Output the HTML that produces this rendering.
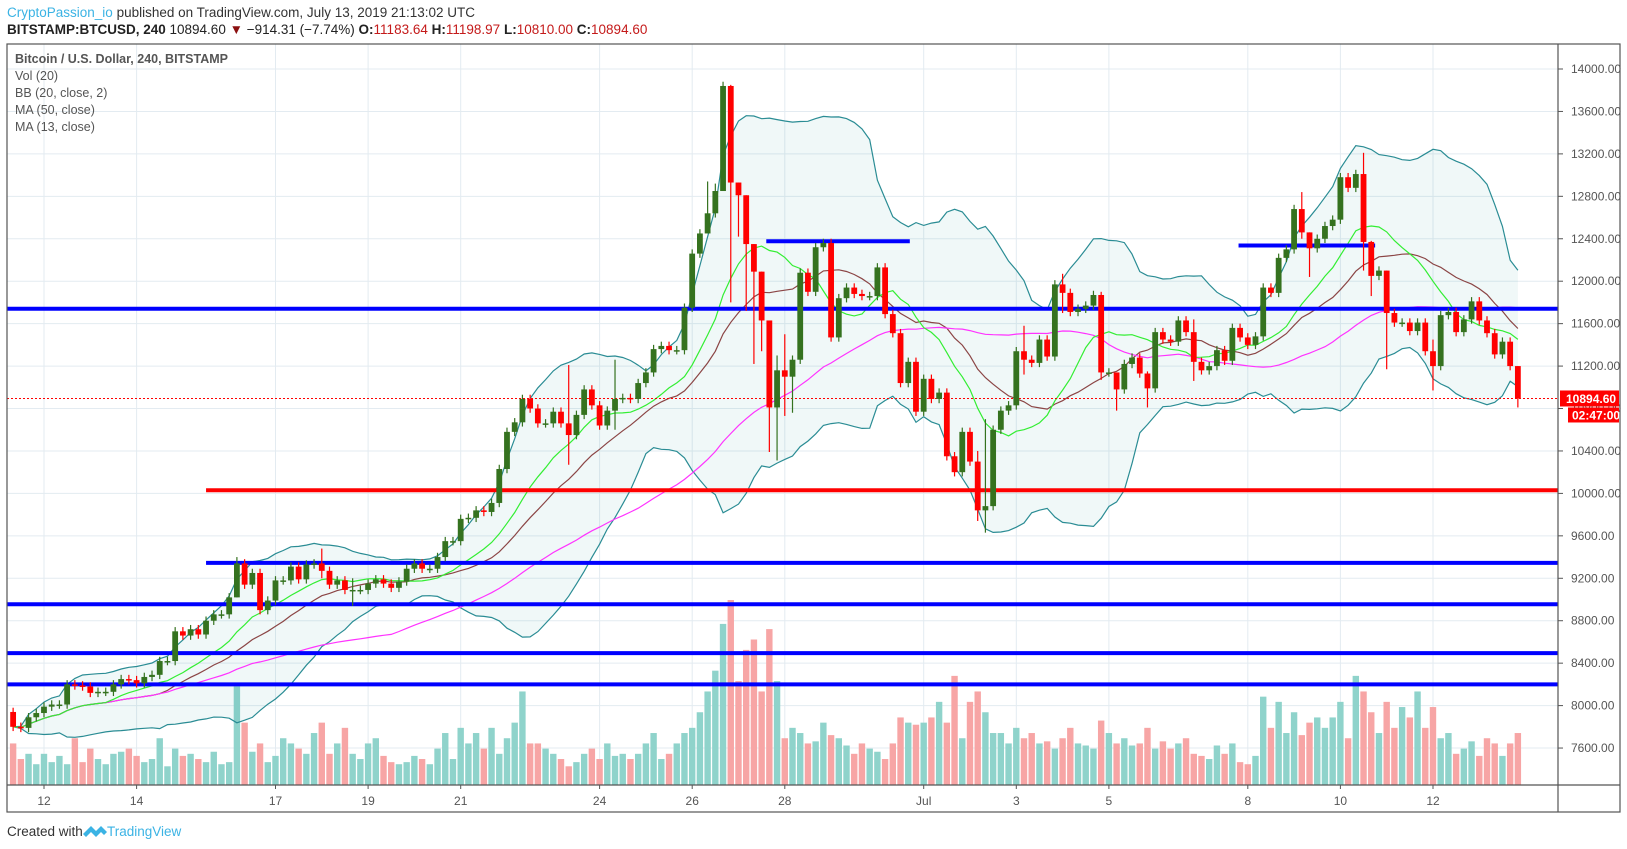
<!DOCTYPE html>
<html><head><meta charset="utf-8"><style>
html,body{margin:0;padding:0;background:#fff;width:1627px;height:849px;overflow:hidden}
svg{display:block}
text{font-family:"Liberation Sans",sans-serif}
</style></head><body>
<svg id="chart" width="1627" height="849" xmlns="http://www.w3.org/2000/svg">
<text x="7" y="17" font-size="13.5" fill="#333"><tspan fill="#3bb3e4">CryptoPassion_io</tspan> published on TradingView.com, July 13, 2019 21:13:02 UTC</text>
<text x="7" y="34" font-size="13.5" fill="#222"><tspan font-weight="bold">BITSTAMP:BTCUSD, 240</tspan> 10894.60 <tspan fill="#8b1010">▼</tspan> −914.31 (−7.74%) <tspan font-weight="bold">O:</tspan><tspan fill="#c41a1a">11183.64</tspan> <tspan font-weight="bold">H:</tspan><tspan fill="#c41a1a">11198.97</tspan> <tspan font-weight="bold">L:</tspan><tspan fill="#c41a1a">10810.00</tspan> <tspan font-weight="bold">C:</tspan><tspan fill="#c41a1a">10894.60</tspan></text>
<g id="grid"></g>
<g id="vol"></g>
<g id="ind"></g>
<g id="levels"></g>
<g id="candles"></g>
<g id="axes"></g>
<rect x="7" y="44" width="1613" height="768" fill="none" stroke="#555" stroke-width="1.2"/>
<line x1="1558" y1="44" x2="1558" y2="812" stroke="#555" stroke-width="1.2"/>
<line x1="7" y1="785" x2="1620" y2="785" stroke="#555" stroke-width="1.2"/>
<g font-size="12.5" fill="#555">
<text x="15" y="63" font-weight="bold">Bitcoin / U.S. Dollar, 240, BITSTAMP</text>
<text x="15" y="80">Vol (20)</text>
<text x="15" y="97">BB (20, close, 2)</text>
<text x="15" y="114">MA (50, close)</text>
<text x="15" y="131">MA (13, close)</text>
</g>
<g>
<text x="7" y="836" font-size="13.5" fill="#333">Created with</text>
<path d="M83 834 l8 -8 l5 5 l5 -5 l6 6 l-3 3 l-3 -3 l-5 5 l-5 -5 l-5 5z" fill="#3bb3e4"/>
<text x="107" y="836" font-size="13.5" fill="#3bb3e4">TradingView</text>
</g>
</svg>
<script>
const closes=[7800,7790,7890,7930,7990,8010,8010,8200,8190,8180,
8120,8130,8130,8200,8250,8240,8210,8270,8290,8420,
8420,8700,8660,8720,8670,8800,8860,8860,9020,9340,
9140,9250,8900,8990,9180,9180,9310,9190,9330,9340,
9270,9140,9180,9090,9090,9090,9150,9190,9150,9110,
9170,9290,9340,9290,9290,9400,9550,9550,9760,9770,
9840,9825,9910,10230,10580,10670,10890,10800,10660,10660,
10770,10660,10550,10740,10980,10830,10640,10780,10890,10900,
10890,11040,11140,11360,11390,11350,11350,11750,12260,12450,
12640,12850,13840,12930,12810,12350,12090,11630,10810,11160,
11100,11260,12080,11900,12320,12360,11470,11840,11940,11880,
11860,11860,12130,11690,11510,11040,11240,10770,11080,10890,
10950,10350,10200,10580,10300,9840,9880,10600,10780,10830,
11340,11260,11230,11450,11290,11970,11890,11710,11740,11770,
11870,11140,11140,10980,11220,11280,11130,10990,11520,11450,
11430,11630,11520,11240,11160,11200,11350,11250,11560,11470,
11400,11480,11940,11890,12220,12300,12680,12460,12310,12400,
12520,12580,12980,12880,13010,12370,12050,12100,11700,11610,
11610,11530,11610,11340,11200,11680,11710,11520,11640,11810,
11630,11510,11310,11430,11200,10895];
const firstOpen=7940;
const wickIdx=[29,40,44,72,78,90,91,92,93,94,95,96,97,98,99,100,101,125,126,131,136,141,143,147,153,167,168,175,176,178,184,195];
const wickHigh=[9400,9480,9200,11210,11260,12940,12920,13880,13850,12880,12400,12120,11700,10860,11300,11500,11300,10400,10700,11580,12070,11900,11050,11150,11640,12840,12400,13210,12380,11800,11450,11199];
const wickLow=[9300,9200,8940,10270,10600,12450,12600,12870,11800,12420,11720,11220,11340,10390,10310,10730,10760,9740,9630,11120,11700,11070,10780,10810,11060,12400,12040,12100,11860,11170,10970,10810];
const volumes=[40,25,30,20,30,22,28,20,45,22,35,25,20,30,32,35,28,22,25,45,18,35,28,30,25,22,32,20,22,95,60,32,40,22,28,45,40,35,30,50,60,30,40,55,30,25,40,45,28,22,20,22,28,25,20,35,50,25,55,40,50,35,55,30,45,60,90,40,40,35,30,25,18,22,30,35,25,40,28,30,25,30,40,50,25,30,40,50,55,70,90,110,155,178,100,130,140,90,150,100,45,55,50,40,42,60,48,45,38,30,40,35,32,25,40,65,60,58,60,65,80,60,105,45,80,90,70,50,50,40,55,45,50,40,42,35,45,55,40,38,35,62,50,40,45,38,40,55,35,42,35,40,45,30,28,25,38,30,40,22,20,28,85,55,80,50,70,48,60,65,55,65,80,45,105,90,70,50,80,55,75,65,90,55,75,45,50,30,35,42,28,45,40,28,40,50];
const priceTicks=[7600,8000,8400,8800,9200,9600,10000,10400,10800,11200,11600,12000,12400,12800,13200,13600,14000];
const dateLabels=["12","14","17","19","21","24","26","28","Jul","3","5","8","10","12"];
const dateDays=[0,2,5,7,9,12,14,16,19,21,23,26,28,30];
const levelPrices=[11740,10030,9345,8955,8494,8200,12376,12337];
const levelStartDay=[-0.8,3.5,3.5,-0.8,-0.8,-0.8,15.6,25.8];
const levelEndDay=[32.7,32.7,32.7,32.7,32.7,32.7,18.7,28.75];
const levelColors=["#0000ff","#ff0000","#0000ff","#0000ff","#0000ff","#0000ff","#0000ff","#0000ff"];
const lastPrice=10894.6;

const NS="http://www.w3.org/2000/svg";
const PL=7,PR=1558,PT=44,VB=785;
function yP(p){return 69+(14000-p)/400*42.44;}
function xD(d){return 44+d*46.3;}
function xI(i){return xD(-0.667+i/6);}
function mk(tag,attrs,parent){const e=document.createElementNS(NS,tag);for(const k in attrs)e.setAttribute(k,attrs[k]);parent.appendChild(e);return e;}
const G=id=>document.getElementById(id);

// grid
priceTicks.forEach(p=>{const l=mk('line',{x1:PL,x2:PR,y1:yP(p),y2:yP(p),stroke:'#e3ebf1','stroke-width':1},G('grid'));

});
dateDays.forEach(d=>{const l=mk('line',{x1:xD(d),x2:xD(d),y1:PT,y2:VB,stroke:'#e3ebf1','stroke-width':1},G('grid'));

});

// axes labels
priceTicks.forEach(p=>{
const t=mk('line',{x1:PR,x2:PR+5,y1:yP(p),y2:yP(p),stroke:'#555'},G('axes'));


const tx=mk('text',{x:1571,y:yP(p)+4,'font-size':12,fill:'#555'},G('axes'));tx.textContent=p.toFixed(2);

});
dateDays.forEach((d,k)=>{
const t=mk('line',{x1:xD(d),x2:xD(d),y1:VB,y2:VB+4,stroke:'#555'},G('axes'));


const tx=mk('text',{x:xD(d),y:805,'font-size':12,fill:'#555','text-anchor':'middle'},G('axes'));tx.textContent=dateLabels[k];

});

// opens/highs/lows
const opens=closes.map((c,i)=>i===0?firstOpen:closes[i-1]);
const highs=closes.map((c,i)=>Math.max(c,opens[i])+40);
const lows=closes.map((c,i)=>Math.min(c,opens[i])-40);
wickIdx.forEach((i,k)=>{highs[i]=Math.max(wickHigh[k],closes[i],opens[i]);lows[i]=Math.min(wickLow[k],closes[i],opens[i]);});

// volume
const vMax=Math.max(...volumes);
volumes.forEach((v,i)=>{const up=closes[i]>=opens[i];const h=v/vMax*185;
const r=mk('rect',{x:xI(i)-3.2,y:VB-h,width:6.4,height:h,fill:up?'#8fd3cb':'#f7a5a5'},G('vol'));

});

// indicators
function sma(n,i){const s=Math.max(0,i-n+1);let a=0;for(let k=s;k<=i;k++)a+=closes[k];return a/(i-s+1);}
function sd(n,i,m){const s=Math.max(0,i-n+1);let a=0;for(let k=s;k<=i;k++)a+=(closes[k]-m)**2;return Math.sqrt(a/(i-s+1));}
const up=[],lo=[],mid=[],m13=[],m50=[];
closes.forEach((c,i)=>{const m=sma(20,i),s=sd(20,i,m);mid.push([xI(i),yP(m)]);up.push([xI(i),yP(m+2*s)]);lo.push([xI(i),yP(m-2*s)]);m13.push([xI(i),yP(sma(13,i))]);m50.push([xI(i),yP(sma(50,i))]);});
const pts=a=>a.map(p=>p[0].toFixed(1)+','+p[1].toFixed(1)).join(' ');
const fill=mk('polygon',{points:pts(up)+' '+pts(lo.slice().reverse()),fill:'rgba(0,128,128,0.06)'},G('ind'));


[[up,'#2a8c94','bb-upper'],[lo,'#2a8c94','bb-lower'],[mid,'#8b4545','bb-basis'],[m50,'#ff33ff','ma50-line'],[m13,'#33ee33','ma13-line']].forEach(([a,c,n])=>{
const l=mk('polyline',{points:pts(a),fill:'none',stroke:c,'stroke-width':1.2},G('ind'));

});

// levels
levelPrices.forEach((p,k)=>{const l=mk('line',{x1:xD(levelStartDay[k]),x2:Math.min(PR,xD(levelEndDay[k])),y1:yP(p),y2:yP(p),stroke:levelColors[k],'stroke-width':4},G('levels'));

});
const dl=mk('line',{x1:PL,x2:PR,y1:yP(lastPrice),y2:yP(lastPrice),stroke:'#ff0000','stroke-width':1,'stroke-dasharray':'2,2'},G('levels'));



// candles
closes.forEach((c,i)=>{const o=opens[i],upc=c>=o,col=upc?'#35721f':'#ff0000',x=xI(i);
const w=mk('line',{x1:x,x2:x,y1:yP(highs[i]),y2:yP(lows[i]),stroke:col,'stroke-width':1.2},G('candles'));


const top=yP(Math.max(o,c)),h=Math.max(1.5,yP(Math.min(o,c))-top);
const b=mk('rect',{x:x-2.9,y:top,width:5.8,height:h,fill:col},G('candles'));

});

// last price label
const ly=yP(lastPrice);
const lb=mk('rect',{x:1560,y:ly-8,width:59,height:16,fill:'#ff0000'},G('axes'));


const lt=mk('text',{x:1566,y:ly+4.5,'font-size':12,fill:'#fff','font-weight':'bold'},G('axes'));lt.textContent=lastPrice.toFixed(2);


const cb=mk('rect',{x:1568,y:ly+9,width:51,height:15,fill:'#ff0000'},G('axes'));


const ct=mk('text',{x:1572,y:ly+21,'font-size':12,fill:'#fff','font-weight':'bold'},G('axes'));ct.textContent='02:47:00';


</script>
</body></html>
